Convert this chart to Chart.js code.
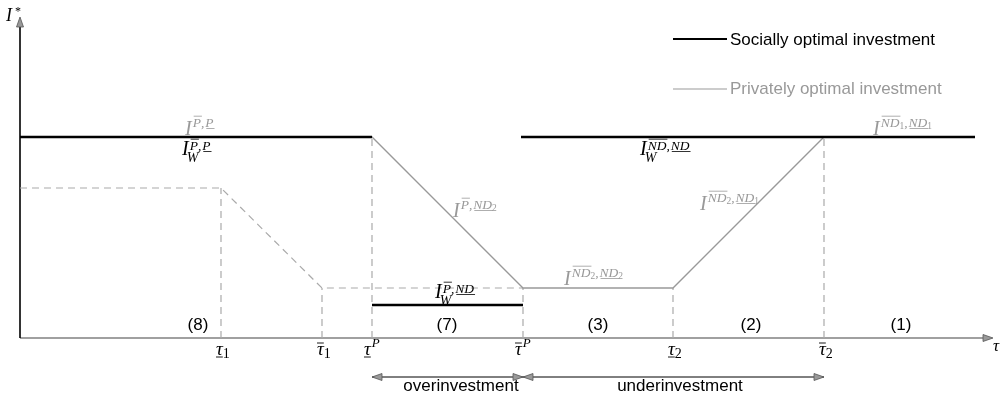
<!DOCTYPE html>
<html><head><meta charset="utf-8">
<script src="https://cdn.jsdelivr.net/npm/chart.js@4/dist/chart.umd.min.js"></script>
<style>html,body{margin:0;padding:0;background:#fff}#w{width:1001px;height:398px;position:relative}</style>
</head><body><div id="w"><canvas id="c"></canvas></div>
<script>
// ---- data (tau on x, I* on y) ----
const tauTicks = [201, 302, 352, 503, 653, 804];
const tauDeco = ['u', 'o', 'u', 'o', 'u', 'o'];
const tauSub = ['1', '1', '', '', '2', '2'];
const tauSup = ['', '', 'P', 'P', '', ''];
const guideTops = [150, 50, 201, 50, 50, 201];

const privateX = [0, 352, 503, 653, 804, 955];
const privateY = [201, 201, 50, 50, 201, 201];
const privateDashX = [0, 201, 302, 503];
const privateDashY = [150, 150, 50, 50];

const socialLeftX = [0, 352];
const socialRightX = [501, 955];
const socialHigh = 201;
const socialLowX = [352, 503];
const socialLow = 33;

const regionLabels = ['(8)', '(7)', '(3)', '(2)', '(1)'];
const regionX = [178, 427, 578, 731, 881];

const O = t => ({t, d: 'o'}), U = t => ({t, d: 'u'}), C = {t: ','}, S = s => ({s});
const mathX = [165, 162, 433, 415, 544, 680, 620, 853];
const mathY = [203, 183, 121, 40, 53, 128, 183, 203];
const mathSocial = [false, true, false, true, false, false, true, false];
const mathSup = [
  [O('P'), C, U('P')],
  [O('P'), C, U('P')],
  [O('P'), C, U('ND'), S('2')],
  [O('P'), C, U('ND')],
  [O('ND'), S('2'), C, U('ND'), S('2')],
  [O('ND'), S('2'), C, U('ND'), S('1')],
  [O('ND'), C, U('ND')],
  [O('ND'), S('1'), C, U('ND'), S('1')]
];

const legendLabels = ['Socially optimal investment', 'Privately optimal investment'];
const spanLabels = ['overinvestment', 'underinvestment'];

const BLACK = '#000', GRAY = '#999';
const SERIF = '"Liberation Serif", "DejaVu Serif", serif';
const SANS = '"Liberation Sans", Arial, sans-serif';

function pts(xs, ys) { return xs.map((x, i) => ({x, y: Array.isArray(ys) ? ys[i] : ys})); }

const datasets = [];
datasets.push({data: pts(socialLeftX, socialHigh), borderColor: BLACK, borderWidth: 2.6, order: 0});
datasets.push({data: pts(socialRightX, socialHigh), borderColor: BLACK, borderWidth: 2.6, order: 0});
datasets.push({data: pts(socialLowX, socialLow), borderColor: BLACK, borderWidth: 2.6, order: 0});
datasets.push({data: pts(privateX, privateY), borderColor: GRAY, borderWidth: 1.3, order: 1});
datasets.push({data: pts(privateDashX, privateDashY), borderColor: '#aaa', borderWidth: 1.2, borderDash: [7, 5], order: 2});
tauTicks.forEach((t, i) => datasets.push({data: pts([t, t], [0, guideTops[i]]), borderColor: '#aaa', borderWidth: 1.2, borderDash: [7, 5], order: 3}));
datasets.forEach(d => { d.showLine = true; d.pointRadius = 0; d.fill = false; d.tension = 0; d.borderCapStyle = 'butt'; });

function tokens(ctx, x, y, list, size) {
  for (const tk of list) {
    if (tk.s) {
      ctx.font = `${size - 4}px ${SERIF}`;
      ctx.fillText(tk.s, x, y + 2);
      x += ctx.measureText(tk.s).width;
      continue;
    }
    ctx.font = `italic ${size}px ${SERIF}`;
    const w = ctx.measureText(tk.t).width;
    ctx.fillText(tk.t, x, y);
    if (tk.d) {
      const ly = tk.d === 'o' ? y - size * 0.8 : y + 1.5;
      ctx.beginPath(); ctx.moveTo(x + 1, ly); ctx.lineTo(x + w + 1, ly); ctx.stroke();
    }
    x += w + (tk.t === ',' ? 1 : 0);
  }
}

function mathLabel(ctx, x, y, color, sup, sub) {
  ctx.fillStyle = color; ctx.strokeStyle = color; ctx.lineWidth = 0.8;
  ctx.textAlign = 'left'; ctx.textBaseline = 'alphabetic';
  ctx.font = `italic 20px ${SERIF}`;
  ctx.fillText('I', x, y);
  const w = ctx.measureText('I').width;
  if (sub) { ctx.font = `italic 14px ${SERIF}`; ctx.fillText(sub, x + w - 2, y + 7); }
  tokens(ctx, x + w + 1, y - (sub ? 5 : 8), sup, 13.5);
}

function arrowHead(ctx, tipX, tipY, dx, dy, len, half) {
  const bx = tipX - dx * len, by = tipY - dy * len;
  ctx.beginPath();
  ctx.moveTo(tipX, tipY);
  ctx.lineTo(bx - dy * half, by + dx * half);
  ctx.lineTo(bx + dy * half, by - dx * half);
  ctx.closePath();
  ctx.fillStyle = '#999'; ctx.fill();
  ctx.strokeStyle = '#555'; ctx.lineWidth = 0.8; ctx.stroke();
}

const deco = {
  id: 'deco',
  beforeDatasetsDraw(chart) {
    const ctx = chart.ctx, xs = chart.scales.x, ys = chart.scales.y;
    const x0 = xs.getPixelForValue(0), y0 = ys.getPixelForValue(0);
    ctx.save();
    ctx.strokeStyle = '#808080'; ctx.lineWidth = 1.6;
    ctx.beginPath(); ctx.moveTo(x0, y0); ctx.lineTo(xs.getPixelForValue(964), y0); ctx.stroke();
    arrowHead(ctx, xs.getPixelForValue(973), y0, 1, 0, 10, 3.5);
    ctx.strokeStyle = '#000'; ctx.lineWidth = 1.6;
    ctx.beginPath(); ctx.moveTo(x0, y0); ctx.lineTo(x0, ys.getPixelForValue(311)); ctx.stroke();
    arrowHead(ctx, x0, ys.getPixelForValue(321), 0, -1, 10, 3.5);
    ctx.restore();
  },
  afterDatasetsDraw(chart) {
    const ctx = chart.ctx, xs = chart.scales.x, ys = chart.scales.y;
    const px = v => xs.getPixelForValue(v), py = v => ys.getPixelForValue(v);
    ctx.save();
    ctx.textBaseline = 'alphabetic';
    ctx.fillStyle = '#000'; ctx.textAlign = 'left';
    ctx.font = `italic 18px ${SERIF}`; ctx.fillText('I', 6, 21);
    ctx.font = `12px ${SERIF}`; ctx.fillText('*', 15, 15);
    ctx.font = `italic 17px ${SERIF}`; ctx.fillText('τ', px(973), py(-13));
    tauTicks.forEach((t, i) => {
      const base = py(-17);
      const x = px(t) - (tauSup[i] ? 8 : 5);
      ctx.fillStyle = '#000'; ctx.strokeStyle = '#000'; ctx.lineWidth = 0.9;
      ctx.font = `italic 19px ${SERIF}`;
      const w = ctx.measureText('τ').width;
      ctx.fillText('τ', x, base);
      const ly = tauDeco[i] === 'o' ? base - 12 : base + 2;
      ctx.beginPath(); ctx.moveTo(x, ly); ctx.lineTo(x + w, ly); ctx.stroke();
      if (tauSub[i]) { ctx.font = `14px ${SERIF}`; ctx.fillText(tauSub[i], x + w, base + 3); }
      if (tauSup[i]) { ctx.font = `italic 13px ${SERIF}`; ctx.fillText(tauSup[i], x + w + 1, base - 8); }
    });
    ctx.font = `17px ${SANS}`; ctx.fillStyle = '#000'; ctx.textAlign = 'center';
    regionLabels.forEach((l, i) => ctx.fillText(l, px(regionX[i]), py(8)));
    mathX.forEach((x, i) => mathLabel(ctx, px(x), py(mathY[i]), mathSocial[i] ? BLACK : '#999', mathSup[i], mathSocial[i] ? 'W' : ''));
    const ay = py(-39);
    ctx.strokeStyle = '#000'; ctx.lineWidth = 1;
    ctx.beginPath(); ctx.moveTo(px(tauTicks[2]), ay); ctx.lineTo(px(tauTicks[5]), ay); ctx.stroke();
    arrowHead(ctx, px(tauTicks[2]), ay, -1, 0, 10, 3.5);
    arrowHead(ctx, px(tauTicks[3]), ay, 1, 0, 10, 3.5);
    arrowHead(ctx, px(tauTicks[3]), ay, -1, 0, 10, 3.5);
    arrowHead(ctx, px(tauTicks[5]), ay, 1, 0, 10, 3.5);
    ctx.fillStyle = '#000'; ctx.textAlign = 'center'; ctx.font = `17px ${SANS}`;
    ctx.fillText(spanLabels[0], px(441), py(-53));
    ctx.fillText(spanLabels[1], px(660), py(-53));
    ctx.textAlign = 'left';
    ctx.strokeStyle = '#000'; ctx.lineWidth = 2;
    ctx.beginPath(); ctx.moveTo(673, 39); ctx.lineTo(727, 39); ctx.stroke();
    ctx.fillStyle = '#000'; ctx.fillText(legendLabels[0], 730, 45);
    ctx.strokeStyle = '#999'; ctx.lineWidth = 1.2;
    ctx.beginPath(); ctx.moveTo(673, 89); ctx.lineTo(727, 89); ctx.stroke();
    ctx.fillStyle = '#999'; ctx.fillText(legendLabels[1], 730, 94);
    ctx.restore();
  }
};

new Chart(document.getElementById('c'), {
  type: 'scatter',
  data: {datasets},
  options: {
    responsive: true, maintainAspectRatio: false, animation: false,
    layout: {padding: {left: 20, right: 11, top: 18, bottom: 60}},
    scales: {
      x: {type: 'linear', min: 0, max: 970, display: false},
      y: {type: 'linear', min: 0, max: 320, display: false}
    },
    plugins: {legend: {display: false}, tooltip: {enabled: false}},
    elements: {line: {borderJoinStyle: 'miter'}}
  },
  plugins: [deco]
});
</script></body></html>
